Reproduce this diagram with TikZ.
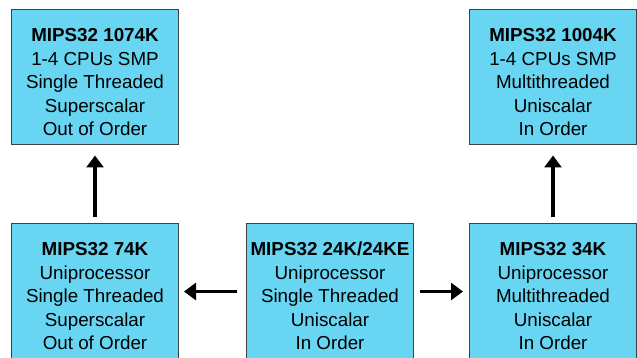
\documentclass[tikz,border=0pt]{standalone}
\usepackage{fontspec}
\setmainfont{Liberation Sans}
\usetikzlibrary{arrows.meta,positioning}
\definecolor{cianus}{RGB}{104,214,242}
\definecolor{keret}{RGB}{64,64,64}
\newcommand\fej[1]{\rule{0pt}{23pt}\textbf{#1}}
\tikzset{
  mag/.style={draw=keret,line width=1pt,fill=cianus,minimum width=167pt,
    minimum height=135pt,inner sep=0pt,align=center,
    font=\fontsize{18.8}{23.5}\selectfont},
  nyil/.style={line width=3.6pt,-{Triangle[length=12pt,width=17pt]}},
}
\begin{document}
\begin{tikzpicture}[x=1pt,y=1pt]
  \useasboundingbox (0,0) rectangle (637,358);
  \node[mag] (k24) at (330,66.5)
    {\fej{MIPS32 24K/24KE}\\Uniprocessor\\Single Threaded\\Uniscalar\\In Order};
  \node[mag,left=67pt of k24] (k74)
    {\fej{MIPS32 74K}\\Uniprocessor\\Single Threaded\\Superscalar\\Out of Order};
  \node[mag,right=55pt of k24] (k34)
    {\fej{MIPS32 34K}\\Uniprocessor\\Multithreaded\\Uniscalar\\In Order};
  \node[mag,above=78pt of k74] (k1074)
    {\fej{MIPS32 1074K}\\1-4 CPUs SMP\\Single Threaded\\Superscalar\\Out of Order};
  \node[mag,above=78pt of k34] (k1004)
    {\fej{MIPS32 1004K}\\1-4 CPUs SMP\\Multithreaded\\Uniscalar\\In Order};
  \draw[nyil,shorten <=9pt,shorten >=5pt] (k24) -- (k74);
  \draw[nyil,shorten <=6pt,shorten >=6pt] (k24) -- (k34);
  \draw[nyil,shorten <=6pt,shorten >=10pt] (k74) -- (k1074);
  \draw[nyil,shorten <=6pt,shorten >=10pt] (k34) -- (k1004);
\end{tikzpicture}
\end{document}
